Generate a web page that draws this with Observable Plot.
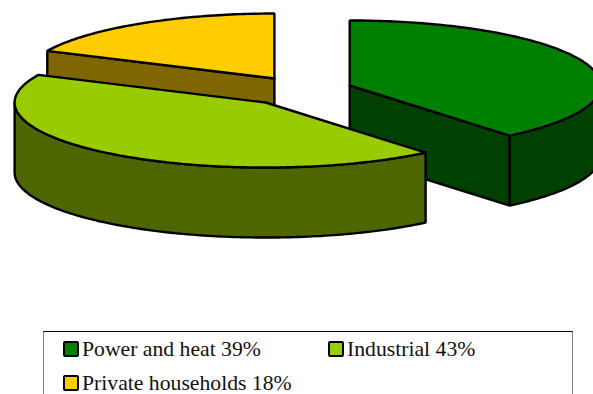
<!DOCTYPE html>
<html>
<head>
<meta charset="utf-8">
<script src="https://cdn.jsdelivr.net/npm/d3@7"></script>
<script src="https://cdn.jsdelivr.net/npm/@observablehq/plot@0.6"></script>
<style>
html,body{margin:0;padding:0;background:#fff;width:593px;height:394px;overflow:hidden}
#chart svg{display:block}
#legend{position:absolute;left:43px;top:331px;width:528px;height:62px;box-sizing:content-box;
  border-top:1px solid #000;border-left:1px solid #808080;border-right:1px solid #808080;
  font-family:"Liberation Serif",serif;font-size:21.7px;color:#111}
.item{position:absolute;display:flex;align-items:center;white-space:nowrap;line-height:20px;height:20px}
.sw{display:inline-block;width:12px;height:12px;border:2px solid #000;border-radius:2px;margin-right:3px}
</style>
</head>
<body>
<div id="chart"></div>
<div id="legend"></div>
<script>
// Data
const labels = ["Power and heat", "Industrial", "Private households"];
const shares = [39, 43, 18];
const topColors = ["#008000", "#99CC00", "#FFCC00"];
const sideColors = ["#004000", "#4D6600", "#806600"];

// Exploded-pie model, in units of the pie radius
const offsetX = [0.2, -0.135, -0.1];
const offsetY = [0.108, -0.154, 0.215];
const depth = 1.077;

const W = 593, H = 326, rx = 251, ry = 65, cx = 299, cy = 92;

const total = d3.sum(shares);
let acc = 0;
const slices = shares.map((s, i) => {
  const a0 = acc / total * 360; acc += s; const a1 = acc / total * 360;
  return {i, a0, a1, ox: offsetX[i], oy: offsetY[i]};
});
const pt = (sl, deg, dz = 0) => {
  const r = deg * Math.PI / 180;
  return {x: sl.ox + Math.sin(r), y: sl.oy + Math.cos(r) - dz};
};
const apex = (sl, dz = 0) => ({x: sl.ox, y: sl.oy - dz});
const arc = (sl, a, b, dz = 0) => {
  const n = Math.max(2, Math.ceil(Math.abs(b - a)));
  return d3.range(n + 1).map(k => pt(sl, a + (b - a) * k / n, dz));
};
const closed = pts => [...pts, pts[0]];

const topFace = sl => closed([apex(sl), ...arc(sl, sl.a0, sl.a1)]);
const endFace = (sl, a) => closed([apex(sl), pt(sl, a), pt(sl, a, depth), apex(sl, depth)]);
const wall = (sl, a, b) => closed([...arc(sl, a, b), ...arc(sl, b, a, depth)]);

const [power, industrial, house] = slices;
const face = (pts, fill) => Plot.line(pts, {x: "x", y: "y", fill, stroke: "#000", strokeWidth: 2.4, strokeLinejoin: "miter", curve: "linear"});

const chart = Plot.plot({
  width: W, height: H,
  marginTop: 0, marginRight: 0, marginBottom: 0, marginLeft: 0,
  x: {domain: [-cx / rx, (W - cx) / rx], range: [0, W], axis: null},
  y: {domain: [(cy - H) / ry, cy / ry], range: [H, 0], axis: null},
  marks: [
    face(endFace(house, house.a0), sideColors[2]),
    face(topFace(house), topColors[2]),
    face(endFace(power, power.a1), sideColors[0]),
    face(wall(power, 90, power.a1), sideColors[0]),
    face(topFace(power), topColors[0]),
    face(wall(industrial, industrial.a0, 270), sideColors[1]),
    face(topFace(industrial), topColors[1])
  ]
});
document.getElementById("chart").appendChild(chart);

const lg = document.getElementById("legend");
const positions = [[19, 7], [284, 7], [19, 41]];
labels.forEach((l, i) => {
  const d = document.createElement("div");
  d.className = "item";
  d.style.left = positions[i][0] + "px";
  d.style.top = positions[i][1] + "px";
  const s = document.createElement("span");
  s.className = "sw"; s.style.background = topColors[i];
  d.appendChild(s);
  d.appendChild(document.createTextNode(l + " " + shares[i] + "%"));
  lg.appendChild(d);
});
</script>
</body>
</html>
